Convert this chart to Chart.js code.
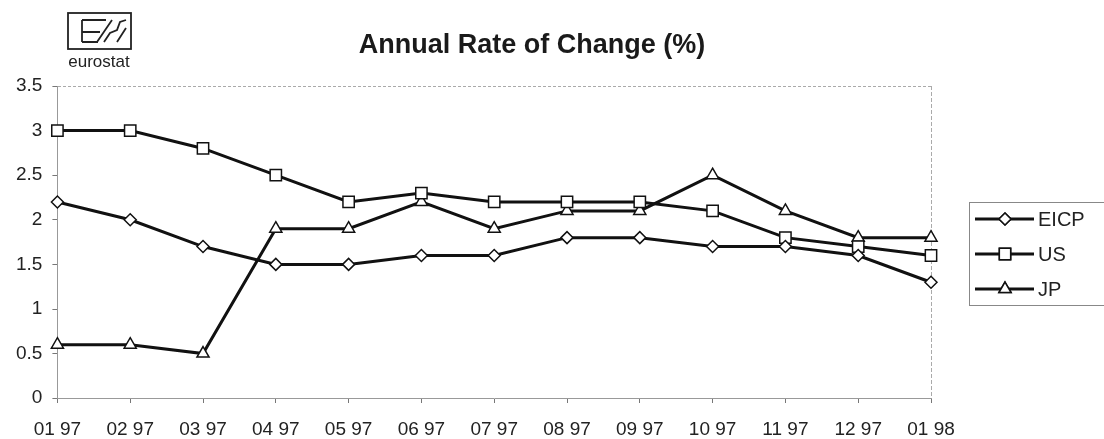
<!DOCTYPE html>
<html>
<head>
<meta charset="utf-8">
<script src="https://cdn.jsdelivr.net/npm/chart.js@4/dist/chart.umd.min.js"></script>
<style>
  html, body { margin: 0; padding: 0; background: #fff; }
  #wrap { width: 1104px; height: 439px; position: relative; }
</style>
</head>
<body>
<div id="wrap"><canvas id="rateChart" width="1104" height="439"></canvas></div>
<script>
// months shown on the x axis
var months = ["01 97", "02 97", "03 97", "04 97", "05 97", "06 97", "07 97", "08 97", "09 97", "10 97", "11 97", "12 97", "01 98"];
// annual rate of change (%)
var eicp = [2.2, 2.0, 1.7, 1.5, 1.5, 1.6, 1.6, 1.8, 1.8, 1.7, 1.7, 1.6, 1.3];
var us   = [3.0, 3.0, 2.8, 2.5, 2.2, 2.3, 2.2, 2.2, 2.2, 2.1, 1.8, 1.7, 1.6];
var jp   = [0.6, 0.6, 0.5, 1.9, 1.9, 2.2, 1.9, 2.1, 2.1, 2.5, 2.1, 1.8, 1.8];
var yTicks = [0, 0.5, 1, 1.5, 2, 2.5, 3, 3.5];

var seriesNames = ["EICP", "US", "JP"];
var markerStyles = ["rectRot", "rect", "triangle"];
var markerSizes = [6, 8, 7];
var font = "'Liberation Sans', Arial, sans-serif";

function makeSet(i, values) {
  return {
    label: seriesNames[i],
    data: values,
    borderColor: "#111",
    borderWidth: 3,
    backgroundColor: "#fff",
    pointStyle: markerStyles[i],
    pointRadius: markerSizes[i],
    pointBorderWidth: 1.5,
    pointBorderColor: "#111",
    pointBackgroundColor: "#fff",
    tension: 0
  };
}

// title, logo and legend box drawn by hand
var decor = {
  id: "decor",
  afterDraw: function(chart) {
    var c = chart.ctx;
    c.save();
    // title
    c.fillStyle = "#1a1a1a";
    c.font = "bold 27px " + font;
    c.textAlign = "center";
    c.textBaseline = "middle";
    c.fillText("Annual Rate of Change (%)", 532, 46);

    // eurostat logo
    c.strokeStyle = "#222";
    c.lineWidth = 1.8;
    c.strokeRect(68, 13, 63, 36);
    c.beginPath();
    c.moveTo(82, 20); c.lineTo(82, 42);
    c.moveTo(82, 20); c.lineTo(106, 20);
    c.moveTo(82, 32); c.lineTo(100, 32);
    c.moveTo(82, 42); c.lineTo(98, 42);
    c.moveTo(97, 42); c.lineTo(112, 20);
    c.moveTo(104, 42); c.lineTo(110, 33); c.lineTo(117, 30); c.lineTo(120, 22); c.lineTo(126, 20);
    c.moveTo(117, 42); c.lineTo(126, 28);
    c.stroke();
    c.fillStyle = "#222";
    c.font = "17px " + font;
    c.fillText("eurostat", 99, 62);

    // legend
    c.strokeStyle = "#888";
    c.lineWidth = 1;
    c.strokeRect(969.5, 202.5, 140, 103);
    var rows = [219, 254, 289];
    c.textAlign = "left";
    c.font = "20px " + font;
    for (var i = 0; i < seriesNames.length; i++) {
      var y = rows[i];
      c.strokeStyle = "#111";
      c.lineWidth = 3;
      c.beginPath();
      c.moveTo(975, y); c.lineTo(1034, y);
      c.stroke();
      c.lineWidth = 1.5;
      c.fillStyle = "#fff";
      Chart.helpers.drawPoint(c, {
        pointStyle: markerStyles[i], radius: markerSizes[i], borderWidth: 1.5
      }, 1005, y);
      c.fill();
      c.stroke();
      c.fillStyle = "#222";
      c.fillText(seriesNames[i], 1038, y + 1);
    }
    c.restore();
  }
};

var ctx = document.getElementById("rateChart").getContext("2d");
new Chart(ctx, {
  type: "line",
  data: {
    labels: months,
    datasets: [makeSet(0, eicp), makeSet(1, us), makeSet(2, jp)]
  },
  options: {
    responsive: false,
    animation: false,
    layout: { padding: { top: 86, right: 173, left: 6, bottom: -17 } },
    plugins: {
      legend: { display: false },
      title: { display: false },
      tooltip: { enabled: false }
    },
    scales: {
      x: {
        offset: false,
        grid: {
          tickLength: 5,
          color: function(ctx) { return ctx.index === months.length - 1 ? "#aaa" : "rgba(0,0,0,0)"; },
          tickColor: "#777",
          tickBorderDash: [4, 2]
        },
        border: { color: "#999", dash: [4, 2] },
        ticks: {
          color: "#222", padding: 15, maxRotation: 0, autoSkip: false,
          font: { family: font, size: 19 }
        }
      },
      y: {
        min: 0, max: 3.5,
        afterBuildTicks: function(axis) {
          axis.ticks = yTicks.map(function(v) { return { value: v }; });
        },
        grid: {
          tickLength: 5,
          color: function(ctx) { return ctx.tick && ctx.tick.value === 3.5 ? "#aaa" : "rgba(0,0,0,0)"; },
          tickColor: "#777",
          borderDash: [4, 2]
        },
        border: { color: "#999", dash: [3, 2] },
        ticks: {
          color: "#222", padding: 10,
          font: { family: font, size: 19 },
          callback: function(v) { return String(v); }
        }
      }
    }
  },
  plugins: [decor]
});
</script>
</body>
</html>
